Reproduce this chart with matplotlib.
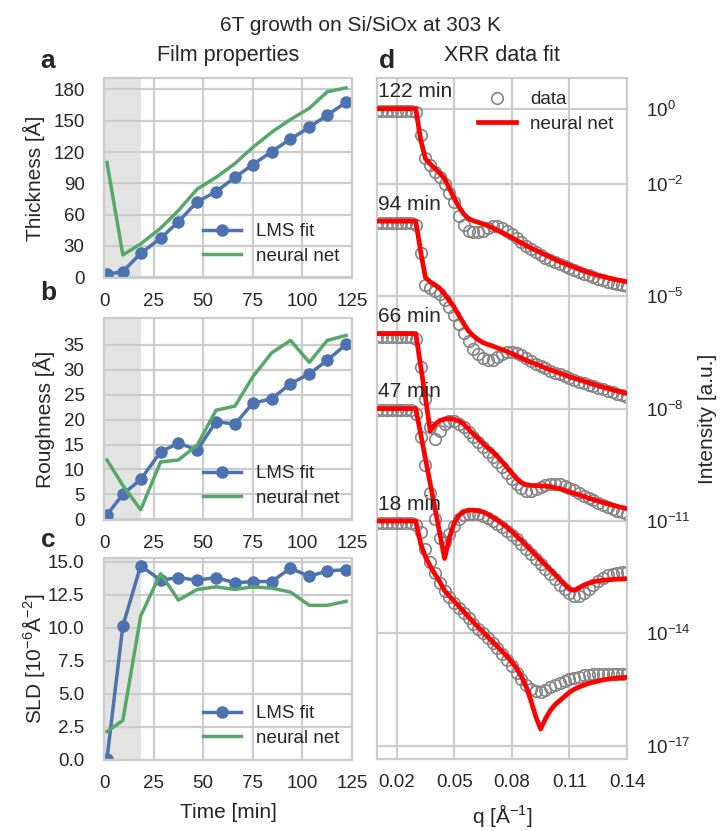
# -*- coding: utf-8 -*-
import numpy as np
import matplotlib
matplotlib.use("Agg")
from matplotlib import pyplot as plt
from matplotlib.ticker import NullLocator

# ---------------- dados: propriedades do filme ----------------
tempo = [1.5, 9.5, 18.5, 28.5, 37.5, 47, 56.5, 66, 75, 84.5, 94, 103.5, 112.5, 122]
espessura_lms = [2.9, 5.4, 23, 37.3, 53.3, 72.4, 82, 95.8, 108, 120.3, 132.5, 143.7, 155.5, 167.6]
espessura_rn = [110, 21.4, 32, 47, 64, 84.6, 95.8, 109, 124.5, 139, 151.3, 162, 177.8, 181.6]
rugosidade_lms = [0.9, 5.0, 8.0, 13.5, 15.3, 13.9, 19.6, 19.1, 23.3, 24.2, 27.2, 29.2, 31.9, 35.1]
rugosidade_rn = [11.9, 6.8, 1.9, 11.5, 11.9, 14.9, 21.9, 22.7, 28.6, 33.4, 35.9, 31.5, 35.9, 36.9]
sld_lms = [0.1, 10.15, 14.7, 13.6, 13.8, 13.6, 13.8, 13.4, 13.5, 13.5, 14.5, 13.9, 14.3, 14.4]
sld_rn = [2.15, 3.0, 10.9, 14.1, 12.1, 12.9, 13.1, 12.9, 13.1, 13.0, 12.7, 11.7, 11.7, 12.0]

# ---------------- dados: curvas XRR (log10 da intensidade) ----------------
q = [0.0100, 0.0125, 0.0150, 0.0175, 0.0200, 0.0225, 0.0250, 0.0275, 0.0300, 0.0325,
     0.0350, 0.0375, 0.0400, 0.0425, 0.0450, 0.0475, 0.0500, 0.0525, 0.0550, 0.0575,
     0.0600, 0.0625, 0.0650, 0.0675, 0.0700, 0.0725, 0.0750, 0.0775, 0.0800, 0.0825,
     0.0850, 0.0875, 0.0900, 0.0925, 0.0950, 0.0975, 0.1000, 0.1025, 0.1050, 0.1075,
     0.1100, 0.1125, 0.1150, 0.1175, 0.1200, 0.1225, 0.1250, 0.1275, 0.1300, 0.1325,
     0.1350, 0.1375, 0.1400]

dados_122 = [-0.05, -0.05, -0.05, -0.05, -0.05, -0.05, -0.05, -0.05, -0.1, -0.7,
             -1.32, -1.5, -1.68, -1.82, -2.02, -2.25, -2.5, -2.85, -3.1, -3.25,
             -3.3, -3.3, -3.25, -3.18, -3.12, -3.12, -3.17, -3.25, -3.35, -3.45,
             -3.55, -3.65, -3.75, -3.83, -3.9, -3.97, -4.03, -4.09, -4.15, -4.2,
             -4.25, -4.3, -4.35, -4.4, -4.44, -4.49, -4.53, -4.57, -4.61, -4.64,
             -4.67, -4.7, -4.73]
rede_122 = [0, 0, 0, 0, 0, 0, 0, 0, 0, -0.82,
            -1.33, -1.47, -1.6, -1.72, -1.87, -2.13, -2.39, -2.62, -2.81, -2.93,
            -2.99, -3.03, -3.07, -3.12, -3.18, -3.24, -3.3, -3.37, -3.44, -3.51,
            -3.58, -3.65, -3.72, -3.78, -3.84, -3.9, -3.96, -4.02, -4.08, -4.13,
            -4.18, -4.23, -4.28, -4.33, -4.37, -4.41, -4.45, -4.48, -4.51, -4.54,
            -4.57, -4.59, -4.62]

dados_94 = [-3.05, -3.05, -3.05, -3.05, -3.05, -3.05, -3.05, -3.05, -3.1, -3.85,
            -4.7, -4.78, -4.85, -4.95, -5.1, -5.3, -5.5, -5.75, -5.98, -6.2,
            -6.4, -6.55, -6.65, -6.7, -6.7, -6.62, -6.55, -6.5, -6.5, -6.52,
            -6.57, -6.65, -6.73, -6.8, -6.87, -6.93, -6.99, -7.04, -7.09, -7.14,
            -7.19, -7.24, -7.28, -7.33, -7.37, -7.41, -7.45, -7.49, -7.53, -7.57,
            -7.61, -7.65, -7.69]
rede_94 = [-3.0, -3.0, -3.0, -3.0, -3.0, -3.0, -3.0, -3.0, -3.0, -3.8,
           -4.5, -4.62, -4.7, -4.79, -4.95, -5.12, -5.3, -5.52, -5.74, -5.93,
           -6.06, -6.16, -6.24, -6.29, -6.33, -6.38, -6.43, -6.48, -6.53, -6.59,
           -6.65, -6.71, -6.76, -6.81, -6.86, -6.92, -6.97, -7.01, -7.06, -7.1,
           -7.15, -7.19, -7.23, -7.27, -7.31, -7.35, -7.39, -7.43, -7.46, -7.5,
           -7.53, -7.57, -7.6]

dados_66 = [-6.08, -6.08, -6.08, -6.08, -6.08, -6.08, -6.08, -6.08, -6.15, -6.9,
            -7.75, -8.5, -8.8, -8.6, -8.4, -8.32, -8.33, -8.4, -8.5, -8.62,
            -8.76, -8.9, -9.03, -9.16, -9.28, -9.42, -9.57, -9.73, -9.88, -10.02,
            -10.13, -10.2, -10.2, -10.15, -10.08, -10.03, -10.0, -10.0, -10.02, -10.06,
            -10.12, -10.18, -10.25, -10.32, -10.39, -10.45, -10.51, -10.57, -10.62, -10.67,
            -10.72, -10.76, -10.8]
rede_66 = [-6.0, -6.0, -6.0, -6.0, -6.0, -6.0, -6.0, -6.0, -6.0, -6.85,
           -7.7, -8.6, -8.42, -8.32, -8.28, -8.27, -8.29, -8.33, -8.42, -8.55,
           -8.68, -8.8, -8.93, -9.05, -9.15, -9.28, -9.42, -9.57, -9.72, -9.87,
           -9.98, -10.03, -10.05, -10.06, -10.06, -10.07, -10.08, -10.11, -10.14, -10.18,
           -10.22, -10.26, -10.3, -10.34, -10.39, -10.43, -10.47, -10.51, -10.54, -10.58,
           -10.61, -10.64, -10.67]

dados_47 = [-8.05, -8.05, -8.05, -8.05, -8.05, -8.05, -8.05, -8.05, -8.15, -8.75,
            -9.5, -10.25, -10.95, -11.45, -11.55, -11.35, -11.12, -10.95, -10.85, -10.8,
            -10.8, -10.82, -10.86, -10.92, -10.99, -11.07, -11.16, -11.26, -11.37, -11.49,
            -11.62, -11.75, -11.88, -12.01, -12.14, -12.28, -12.42, -12.56, -12.7, -12.82,
            -12.93, -13.0, -13.0, -12.93, -12.82, -12.7, -12.6, -12.51, -12.45, -12.41,
            -12.38, -12.36, -12.35]
rede_47 = [-8.0, -8.0, -8.0, -8.0, -8.0, -8.0, -8.0, -8.0, -8.0, -8.67,
           -9.33, -10.0, -10.67, -11.33, -12.0, -11.45, -11.05, -10.85, -10.75, -10.71,
           -10.71, -10.73, -10.76, -10.82, -10.9, -10.98, -11.07, -11.17, -11.28, -11.4,
           -11.52, -11.65, -11.78, -11.91, -12.04, -12.17, -12.3, -12.43, -12.56, -12.69,
           -12.82, -12.85, -12.78, -12.71, -12.66, -12.62, -12.6, -12.58, -12.57, -12.56,
           -12.55, -12.55, -12.54]

dados_18 = [-11.05, -11.05, -11.05, -11.05, -11.05, -11.05, -11.05, -11.05, -11.1, -11.3,
            -11.75, -12.1, -12.4, -12.65, -12.87, -13.03, -13.18, -13.32, -13.46, -13.6,
            -13.74, -13.87, -14.0, -14.13, -14.26, -14.4, -14.55, -14.71, -14.88, -15.05,
            -15.22, -15.37, -15.48, -15.54, -15.55, -15.5, -15.44, -15.38, -15.32, -15.27,
            -15.22, -15.18, -15.15, -15.12, -15.1, -15.09, -15.08, -15.07, -15.07, -15.07,
            -15.07, -15.07, -15.07]
rede_18 = [-11.0, -11.0, -11.0, -11.0, -11.0, -11.0, -11.0, -11.0, -11.0, -11.6,
           -11.95, -12.2, -12.42, -12.62, -12.86, -13.0, -13.14, -13.28, -13.42, -13.56,
           -13.7, -13.83, -13.96, -14.09, -14.22, -14.35, -14.48, -14.61, -14.76, -14.93,
           -15.15, -15.42, -15.8, -16.22, -16.55, -16.28, -16.06, -15.9, -15.79, -15.68,
           -15.57, -15.49, -15.43, -15.38, -15.33, -15.3, -15.27, -15.24, -15.22, -15.2,
           -15.19, -15.18, -15.17]

curvas = [("122 min", dados_122, rede_122, 0),
          ("94 min", dados_94, rede_94, -3),
          ("66 min", dados_66, rede_66, -6),
          ("47 min", dados_47, rede_47, -8),
          ("18 min", dados_18, rede_18, -11)]

# ---------------- estilo ----------------
cinza_texto = "#262626"
plt.rcParams["font.family"] = ["Liberation Sans", "DejaVu Sans"]
plt.rcParams["mathtext.fontset"] = "custom"
plt.rcParams["mathtext.rm"] = "Liberation Sans"
plt.rcParams["mathtext.it"] = "Liberation Sans:italic"
plt.rcParams["mathtext.bf"] = "Liberation Sans:bold"
plt.rcParams["text.color"] = cinza_texto
plt.rcParams["axes.labelcolor"] = cinza_texto
plt.rcParams["xtick.color"] = cinza_texto
plt.rcParams["ytick.color"] = cinza_texto
plt.rcParams["axes.edgecolor"] = "#cccccc"
plt.rcParams["axes.linewidth"] = 1.6
plt.rcParams["axes.grid"] = True
plt.rcParams["axes.axisbelow"] = True
plt.rcParams["grid.color"] = "#cccccc"
plt.rcParams["grid.linewidth"] = 1.6
plt.rcParams["xtick.major.size"] = 0
plt.rcParams["ytick.major.size"] = 0
plt.rcParams["xtick.minor.size"] = 0
plt.rcParams["ytick.minor.size"] = 0

azul = "#4C72B0"
verde = "#55A868"

W, H = 721, 831
fig = plt.figure(figsize=(W / 100, H / 100), dpi=100)


def caixa(x0, y0, x1, y1):
    # converte pixels (origem no topo) em fração da figura
    return [x0 / W, 1 - y1 / H, (x1 - x0) / W, (y1 - y0) / H]


def painel_tempo(ax, lms, rn, rotulo, ylim, yticks, fmt="%g", pad_rotulo=6):
    ax.axvspan(0, 18.5, color="#e3e3e3", zorder=0.2, lw=0)
    ax.plot(tempo, lms, "-o", color=azul, lw=2.5, ms=8, label="LMS fit")
    ax.plot(tempo, rn, "-", color=verde, lw=2.5, label="neural net")
    ax.set_xlim(0, 124)
    ax.set_ylim(*ylim)
    ax.set_xticks([0, 25, 50, 75, 100, 125])
    ax.set_yticks(yticks)
    ax.set_yticklabels([fmt % v for v in yticks])
    ax.set_ylabel(rotulo, fontsize=15, labelpad=pad_rotulo)
    ax.tick_params(axis="x", labelsize=13.5, pad=11)
    ax.tick_params(axis="y", labelsize=13.5, pad=14)
    ax.legend(loc="lower right", frameon=False, fontsize=13.5, handlelength=2.0,
              borderaxespad=0.3, labelspacing=0.4)


ax_a = fig.add_axes(caixa(104, 78, 352, 278))
painel_tempo(ax_a, espessura_lms, espessura_rn, "Thickness [Å]", (-0.7, 191),
             [0, 30, 60, 90, 120, 150, 180])
ax_a.set_title("Film properties", fontsize=15.5, pad=12)

ax_b = fig.add_axes(caixa(104, 318, 352, 520))
painel_tempo(ax_b, rugosidade_lms, rugosidade_rn, "Roughness [Å]", (-0.15, 40.4),
             [0, 5, 10, 15, 20, 25, 30, 35])

ax_c = fig.add_axes(caixa(104, 558, 352, 760))
painel_tempo(ax_c, sld_lms, sld_rn, "SLD [10$^{-6}$Å$^{-2}$]", (0, 15.28),
             [0, 2.5, 5, 7.5, 10, 12.5, 15], fmt="%.1f", pad_rotulo=1)
ax_c.set_xlabel("Time [min]", fontsize=15, labelpad=8)

# ---------------- painel d ----------------
ax_d = fig.add_axes(caixa(377, 78, 627, 759))
for i, (nome, dados, rede, plato) in enumerate(curvas):
    ax_d.semilogy(q, 10 ** np.array(dados), "o", mfc="none", mec="#858585", ms=8.3, mew=1.2,
                  label="data" if i == 0 else None, zorder=2)
    ax_d.semilogy(q, 10 ** np.array(rede), "-", color="red", lw=3.4,
                  label="neural net" if i == 0 else None, zorder=3)
    ax_d.text(0.0105, 10 ** (plato + 0.3), nome, fontsize=15, va="baseline", ha="left", zorder=4)

ax_d.set_xlim(0.0098, 0.14)
ax_d.set_ylim(10 ** -17.35, 10 ** 0.82)
ax_d.set_xticks([0.02, 0.05, 0.08, 0.11, 0.14])
ax_d.set_xticklabels(["0.02", "0.05", "0.08", "0.11", "0.14"])
expoentes = [0, -2, -5, -8, -11, -14, -17]
ax_d.set_yticks([10.0 ** e for e in expoentes])
ax_d.set_yticklabels(["$10^{%d}$" % e for e in expoentes])
ax_d.yaxis.set_minor_locator(NullLocator())
ax_d.yaxis.tick_right()
ax_d.yaxis.set_label_position("right")
ax_d.tick_params(axis="x", labelsize=13.5, pad=11)
ax_d.tick_params(axis="y", labelsize=13.5, pad=14)
ax_d.set_xlabel("q [Å$^{-1}$]", fontsize=15, labelpad=8)
ax_d.set_ylabel("Intensity [a.u.]", fontsize=15, labelpad=5)
ax_d.set_title("XRR data fit", fontsize=15.5, pad=12)
ax_d.legend(loc="upper right", frameon=False, fontsize=13.5, handlelength=2.0,
            borderaxespad=0.3, labelspacing=0.4)

# ---------------- textos da figura ----------------
fig.text(0.5, 1 - 31 / H, "6T growth on Si/SiOx at 303 K", fontsize=15, ha="center", va="baseline")
for letra, x, y in [("a", 48, 68), ("b", 48, 300), ("c", 48, 547), ("d", 387, 68)]:
    fig.text(x / W, 1 - y / H, letra, fontsize=19, fontweight="bold", ha="center", va="baseline")

fig.savefig("out.png", dpi=100)
